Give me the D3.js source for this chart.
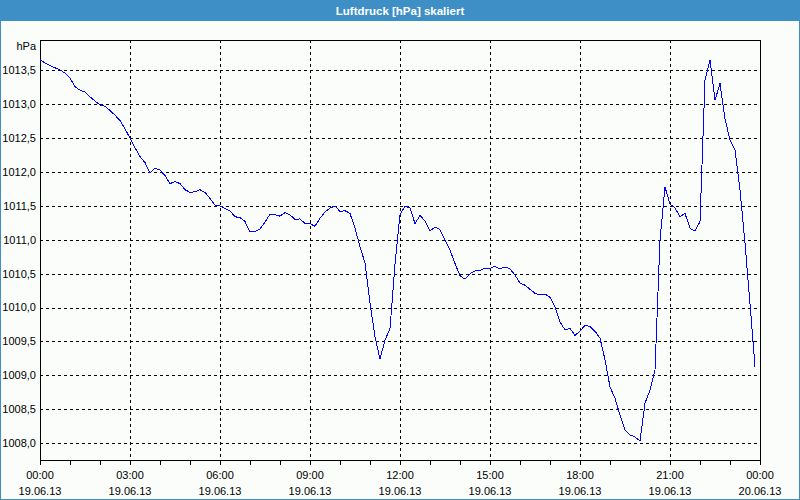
<!DOCTYPE html>
<html>
<head>
<meta charset="utf-8">
<script src="https://cdn.jsdelivr.net/npm/d3@7"></script>
<style>
  html, body { margin: 0; padding: 0; background: #fafdfa; }
  svg { display: block; }
  text { font-family: Tahoma, "Liberation Sans", Arial, sans-serif; }
</style>
</head>
<body>
<svg id="chart" width="800" height="500"></svg>
<script>
// ---- data ----
const chartTitle = "Luftdruck [hPa] skaliert";
const unitLabel = "hPa";
const startTime = Date.UTC(2013, 5, 19, 0, 0);
const endTime = Date.UTC(2013, 5, 20, 0, 0);
const stepMinutes = 10;
const pressure = [
  1013.66, 1013.61, 1013.57, 1013.54, 1013.51, 1013.46, 1013.39, 1013.26, 1013.21, 1013.18,
  1013.11, 1013.05, 1012.99, 1012.97, 1012.91, 1012.84, 1012.76, 1012.64, 1012.50, 1012.36,
  1012.23, 1012.14, 1011.99, 1012.06, 1012.03, 1011.95, 1011.83, 1011.86, 1011.83, 1011.74,
  1011.70, 1011.71, 1011.74, 1011.70, 1011.61, 1011.51, 1011.50, 1011.46, 1011.43, 1011.34,
  1011.33, 1011.27, 1011.12, 1011.12, 1011.16, 1011.26, 1011.38, 1011.37, 1011.35, 1011.40,
  1011.37, 1011.30, 1011.31, 1011.24, 1011.24, 1011.20, 1011.32, 1011.41, 1011.47, 1011.50,
  1011.42, 1011.43, 1011.39, 1011.17, 1010.90, 1010.66, 1010.07, 1009.57, 1009.24, 1009.52,
  1009.69, 1010.64, 1011.37, 1011.50, 1011.47, 1011.24, 1011.36, 1011.28, 1011.13, 1011.19,
  1011.15, 1011.00, 1010.85, 1010.65, 1010.47, 1010.42, 1010.50, 1010.54, 1010.55, 1010.58,
  1010.58, 1010.61, 1010.57, 1010.60, 1010.57, 1010.48, 1010.36, 1010.33, 1010.27, 1010.21,
  1010.19, 1010.20, 1010.15, 1010.01, 1009.79, 1009.67, 1009.69, 1009.59, 1009.65, 1009.74,
  1009.72, 1009.65, 1009.55, 1009.23, 1008.83, 1008.66, 1008.41, 1008.19, 1008.12, 1008.09,
  1008.03, 1008.59, 1008.78, 1009.08, 1011.00, 1011.78, 1011.53, 1011.47, 1011.34, 1011.39,
  1011.17, 1011.13, 1011.27, 1013.36, 1013.66, 1013.06, 1013.31, 1012.79, 1012.47, 1012.33,
  1011.74, 1010.95, 1010.06, 1009.13
];
const yTicks = [1008.0, 1008.5, 1009.0, 1009.5, 1010.0, 1010.5, 1011.0, 1011.5, 1012.0, 1012.5, 1013.0, 1013.5];
const yDomain = [1007.75, 1013.95];
const xLabelHours = [0, 3, 6, 9, 12, 15, 18, 21, 24];
const xMinorHours = d3.range(0, 25, 1);

// ---- layout ----
const svg = d3.select("#chart");
const W = 800, H = 500;
const plot = { left: 40, right: 760, top: 40, bottom: 460 };
const frameBlue = "#3d8fc6";

const x = d3.scaleUtc().domain([startTime, endTime]).range([plot.left, plot.right]);
const y = d3.scaleLinear().domain(yDomain).range([plot.bottom, plot.top]);

const hourToDate = h => new Date(startTime + h * 3600 * 1000);
const deLocale = d3.formatLocale({ decimal: ",", thousands: ".", grouping: [3], currency: ["", " €"] });
const fmtY = deLocale.format(".1f");
const fmtTime = d3.utcFormat("%H:%M");
const fmtDate = d3.utcFormat("%d.%m.%y");

// background & window frame
svg.append("rect").attr("x", 0).attr("y", 0).attr("width", W).attr("height", H).attr("fill", "#fafdfa");
svg.append("rect").attr("x", 0).attr("y", 0).attr("width", W).attr("height", 21).attr("fill", frameBlue);
svg.append("rect").attr("x", 0.5).attr("y", 0.5).attr("width", W - 1).attr("height", H - 1)
  .attr("fill", "none").attr("stroke", frameBlue).attr("stroke-width", 1);

svg.append("text").attr("x", W / 2).attr("y", 14.5).attr("text-anchor", "middle")
  .attr("fill", "#ffffff").attr("font-size", 11.5).attr("font-weight", "bold").text(chartTitle);

// grid
const grid = svg.append("g").attr("shape-rendering", "crispEdges")
  .attr("stroke", "#000").attr("stroke-width", 1).attr("stroke-dasharray", "3,3");
grid.selectAll("line.h").data(yTicks).join("line").attr("class", "h")
  .attr("x1", plot.left).attr("x2", plot.right)
  .attr("y1", d => Math.round(y(d)) + 0.5).attr("y2", d => Math.round(y(d)) + 0.5);
grid.selectAll("line.v").data(xLabelHours.filter(h => h > 0 && h < 24)).join("line").attr("class", "v")
  .attr("x1", d => Math.round(x(hourToDate(d))) + 0.5).attr("x2", d => Math.round(x(hourToDate(d))) + 0.5)
  .attr("y1", plot.top).attr("y2", plot.bottom);

// frame / axes
const axisG = svg.append("g").attr("shape-rendering", "crispEdges").attr("stroke", "#000").attr("stroke-width", 1);
axisG.append("line").attr("x1", plot.left + 0.5).attr("x2", plot.left + 0.5).attr("y1", plot.top).attr("y2", plot.bottom + 1);
axisG.append("line").attr("x1", plot.right + 0.5).attr("x2", plot.right + 0.5).attr("y1", plot.top).attr("y2", plot.bottom + 1);
axisG.append("line").attr("x1", plot.left).attr("x2", plot.right + 1).attr("y1", plot.top + 0.5).attr("y2", plot.top + 0.5);
axisG.append("line").attr("x1", plot.left).attr("x2", plot.right + 1).attr("y1", plot.bottom + 0.5).attr("y2", plot.bottom + 0.5);
axisG.selectAll("line.tick").data(xMinorHours).join("line").attr("class", "tick")
  .attr("x1", d => Math.round(x(hourToDate(d))) + 0.5).attr("x2", d => Math.round(x(hourToDate(d))) + 0.5)
  .attr("y1", plot.bottom).attr("y2", plot.bottom + 5);

// y labels
svg.append("g").selectAll("text").data(yTicks).join("text")
  .attr("x", 36).attr("y", d => y(d)).attr("dy", "0.35em").attr("text-anchor", "end")
  .attr("font-size", 11).attr("fill", "#000").text(d => fmtY(d));
svg.append("text").attr("x", 36).attr("y", 46).attr("dy", "0.35em").attr("text-anchor", "end")
  .attr("font-size", 11).attr("fill", "#000").text(unitLabel);

// x labels
const xl = svg.append("g").selectAll("g").data(xLabelHours).join("g")
  .attr("transform", d => `translate(${x(hourToDate(d))},0)`);
xl.append("text").attr("y", 475).attr("dy", "0.35em").attr("text-anchor", "middle")
  .attr("font-size", 11).attr("fill", "#000").text(d => fmtTime(hourToDate(d)));
xl.append("text").attr("y", 491).attr("dy", "0.35em").attr("text-anchor", "middle")
  .attr("font-size", 11).attr("fill", "#000").text(d => fmtDate(hourToDate(d)));

// line
const series = pressure.map((v, i) => ({ t: new Date(startTime + i * stepMinutes * 60000), v }));
const line = d3.line().x(d => x(d.t)).y(d => y(d.v));
svg.append("path").datum(series).attr("d", line)
  .attr("fill", "none").attr("stroke", "#0000ff").attr("stroke-width", 1)
  .attr("shape-rendering", "crispEdges");
</script>
</body>
</html>
